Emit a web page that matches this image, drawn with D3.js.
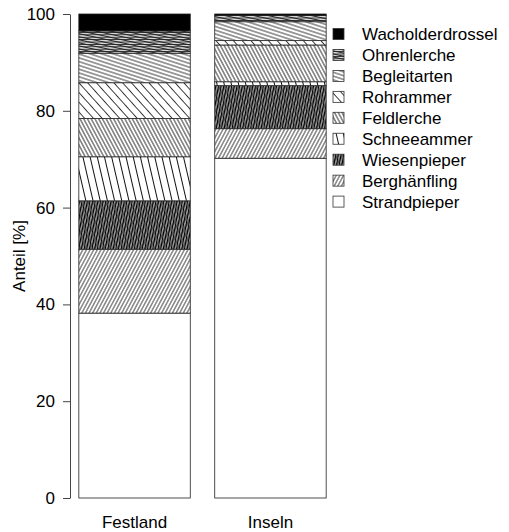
<!DOCTYPE html>
<html>
<head>
<meta charset="utf-8">
<script src="https://cdn.jsdelivr.net/npm/d3@7"></script>
<style>
  html, body { margin: 0; padding: 0; background: #fff; }
  svg { display: block; font-family: "Liberation Sans", Arial, sans-serif; }
</style>
</head>
<body>
<svg id="chart" width="509" height="532"></svg>
<script>
// Anteil der Arten je Gebiet (%), von unten nach oben gestapelt
const categories = ["Festland", "Inseln"];
const species = ["Strandpieper", "Berghänfling", "Wiesenpieper", "Schneeammer",
                 "Feldlerche", "Rohrammer", "Begleitarten", "Ohrenlerche", "Wacholderdrossel"];
const festland = [38.2, 13.2, 10.0, 9.1, 7.9, 7.4, 6.1, 4.6, 3.5];
const inseln   = [70.2, 6.1, 8.9, 0.8, 7.6, 0.9, 3.9, 1.3, 0.3];
const yTicks = [0, 20, 40, 60, 80, 100];

// Schraffur je Art: Winkel (Grad, gegen den Uhrzeigersinn), Abstand, Strichstärke
const hatch = {
  "Strandpieper":     null,
  "Berghänfling":     [{a: 62, s: 3.2, w: 0.9, c: "#333"}],
  "Wiesenpieper":     [{a: 80, s: 2.6, w: 1.6, c: "#000"}, {a: 60, s: 4.0, w: 0.8, c: "#000"}],
  "Schneeammer":      [{a: 103, s: 7.0, w: 1.0, c: "#111"}],
  "Feldlerche":       [{a: 118, s: 3.3, w: 0.9, c: "#222"}],
  "Rohrammer":        [{a: 132, s: 6.5, w: 0.9, c: "#222"}],
  "Begleitarten":     [{a: 162, s: 3.6, w: 0.9, c: "#222"}],
  "Ohrenlerche":      [{a: 0, s: 2.4, w: 1.1, c: "#222"}, {a: 168, s: 3.0, w: 1.0, c: "#222"}],
  "Wacholderdrossel": "solid"
};

const svg = d3.select("#chart");
const defs = svg.append("defs");

species.forEach((sp, i) => {
  const h = hatch[sp];
  if (!Array.isArray(h)) return;
  h.forEach((l, j) => {
    const p = defs.append("pattern")
      .attr("id", `p${i}_${j}`)
      .attr("patternUnits", "userSpaceOnUse")
      .attr("width", 20).attr("height", l.s)
      .attr("patternTransform", `rotate(${-l.a})`);
    p.append("line")
      .attr("x1", -1).attr("x2", 21)
      .attr("y1", l.s / 2).attr("y2", l.s / 2)
      .attr("stroke", l.c).attr("stroke-width", l.w);
  });
});

function paint(sel, sp) {
  const i = species.indexOf(sp);
  const h = hatch[sp];
  if (h === "solid") {
    sel.append("rect").attr("fill", "#000");
  } else {
    sel.append("rect").attr("fill", "#fff");
    if (Array.isArray(h)) h.forEach((l, j) => sel.append("rect").attr("fill", `url(#p${i}_${j})`));
  }
}

const y = d3.scaleLinear().domain([0, 100]).range([498, 14]);
const x = d3.scaleBand().domain(categories).range([70, 335]).paddingInner(0.18).paddingOuter(0.065);

const rows = categories.map((c, k) => {
  const vals = k === 0 ? festland : inseln;
  const r = {cat: c};
  species.forEach((s, i) => r[s] = vals[i]);
  return r;
});
const stack = d3.stack().keys(species)(rows);

const gBars = svg.append("g");
stack.forEach(layer => {
  const sp = layer.key;
  layer.forEach(d => {
    const g = gBars.append("g");
    paint(g, sp);
    g.selectAll("rect")
      .attr("x", x(d.data.cat))
      .attr("width", x.bandwidth())
      .attr("y", y(d[1]))
      .attr("height", y(d[0]) - y(d[1]));
    g.append("rect")
      .attr("x", x(d.data.cat)).attr("width", x.bandwidth())
      .attr("y", y(d[1])).attr("height", y(d[0]) - y(d[1]))
      .attr("fill", "none").attr("stroke", "#222").attr("stroke-width", 0.8);
  });
});

// y-Achse
const yAxis = svg.append("g")
  .attr("transform", "translate(70,0)")
  .call(d3.axisLeft(y).tickValues(yTicks).tickSize(7).tickSizeOuter(0).tickPadding(8));
yAxis.select(".domain").attr("stroke", "#444");
yAxis.selectAll(".tick line").attr("stroke", "#444");
yAxis.selectAll(".tick text").attr("font-size", 17).attr("fill", "#000")
  .attr("font-family", "Liberation Sans, Arial, sans-serif");

svg.append("text")
  .attr("transform", `translate(25,${y(50)}) rotate(-90)`)
  .attr("text-anchor", "middle")
  .attr("font-size", 17)
  .text("Anteil [%]");

// Kategorien
svg.selectAll(".cat").data(categories).enter().append("text")
  .attr("x", d => x(d) + x.bandwidth() / 2)
  .attr("y", 528)
  .attr("text-anchor", "middle")
  .attr("font-size", 17)
  .text(d => d);

// Legende (oben die oberste Art)
const legendOrder = species.slice().reverse();
const lg = svg.append("g");
legendOrder.forEach((sp, k) => {
  const cy = 34 + k * 20.95;
  const g = lg.append("g");
  paint(g, sp);
  g.selectAll("rect").attr("x", 333).attr("y", cy - 5.5).attr("width", 11).attr("height", 11);
  g.append("rect").attr("x", 333).attr("y", cy - 5.5).attr("width", 11).attr("height", 11)
    .attr("fill", "none").attr("stroke", "#333").attr("stroke-width", 0.8);
  lg.append("text").attr("x", 362).attr("y", cy).attr("dy", "0.36em")
    .attr("font-size", 17).text(sp);
});
</script>
</body>
</html>
